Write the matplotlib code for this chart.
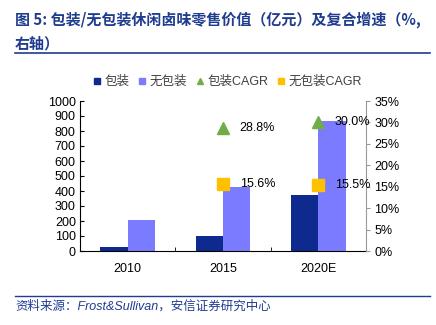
import matplotlib.pyplot as plt
from matplotlib.lines import Line2D
import numpy as np

plt.rcParams['font.family'] = ['Liberation Sans', 'Noto Sans CJK SC', 'DejaVu Sans']

years = ['2010', '2015', '2020E']
packed = [30, 103, 373]          # 包装 (亿元)
unpacked = [205, 430, 870]       # 无包装 (亿元)
cagr_years = [1, 2]
packed_cagr = [28.8, 30.0]       # 包装CAGR (%)
unpacked_cagr = [15.6, 15.5]     # 无包装CAGR (%)

navy = '#0F2A8E'
lilac = '#7B7BFF'
green = '#70AD47'
gold = '#FFC000'
blue_txt = '#1F3C8F'

fig = plt.figure(figsize=(4.36, 3.25), dpi=100)
ax = fig.add_axes([80/436, 1-251/325, 286/436, 150/325])
x = np.arange(len(years))
w = 0.286
ax.bar(x - w/2, packed, w, color=navy, label='包装')
ax.bar(x + w/2, unpacked, w, color=lilac, label='无包装')
ax.set_xlim(-0.5, 2.5)
ax.set_ylim(0, 1000)
ax.set_yticks(range(0, 1001, 100))
ax.set_xticks(x)
ax.set_xticklabels(years)
ax.set_xticks([0.5, 1.5], minor=True)
ax.tick_params(axis='x', which='major', length=0, labelsize=9, pad=9)
ax.tick_params(axis='x', which='minor', length=3, direction='in')
ax.tick_params(axis='y', length=3, direction='in', labelsize=9, pad=3)
ax.spines['top'].set_visible(False)
ax.spines['right'].set_visible(False)

ax2 = ax.twinx()
ax2.set_ylim(0, 35)
ax2.set_yticks(range(0, 36, 5))
ax2.set_yticklabels([f'{v}%' for v in range(0, 36, 5)])
ax2.tick_params(axis='y', length=3, direction='out', color='#999999', labelsize=9, pad=3)
for s in ['top', 'left', 'bottom']:
    ax2.spines[s].set_visible(False)
ax2.spines['right'].set_color('#999999')
ax2.plot(cagr_years, packed_cagr, linestyle='none', marker='^', color=green, markersize=8)
ax2.plot(cagr_years, unpacked_cagr, linestyle='none', marker='s', color=gold, markersize=8)
for xi, v in zip(cagr_years, packed_cagr):
    ax2.annotate(f'{v:.1f}%', (xi, v), xytext=(12, 0), textcoords='offset points',
                 va='center', ha='left', fontsize=9)
for xi, v in zip(cagr_years, unpacked_cagr):
    ax2.annotate(f'{v:.1f}%', (xi, v), xytext=(12, 0), textcoords='offset points',
                 va='center', ha='left', fontsize=9)

handles = [
    Line2D([], [], linestyle='none', marker='s', color=navy, markersize=5),
    Line2D([], [], linestyle='none', marker='s', color=lilac, markersize=5),
    Line2D([], [], linestyle='none', marker='^', color=green, markersize=5),
    Line2D([], [], linestyle='none', marker='s', color=gold, markersize=5),
]
labels = ['包装', '无包装', '包装CAGR', '无包装CAGR']
leg = fig.legend(handles, labels, loc='center', bbox_to_anchor=(227/436, 1-82/325), ncol=4,
                 frameon=False, fontsize=9, handlelength=0.8, handletextpad=0.2,
                 columnspacing=0.6, labelcolor='#404040')

title_font = ['Noto Sans CJK SC', 'DejaVu Sans']
fig.text(15/436, 1-20/325, '图 5: 包装/无包装休闲卤味零售价值（亿元）及复合增速（%,',
         fontsize=10.8, fontweight='bold', color=blue_txt, va='center', ha='left',
         family=title_font)
fig.text(15/436, 1-43/325, '右轴）', fontsize=10.8, fontweight='bold', color=blue_txt,
         va='center', ha='left', family=title_font)
fig.add_artist(Line2D([15/436, 430/436], [1-53/325, 1-53/325], color=blue_txt, lw=1.2))
fig.add_artist(Line2D([15/436, 430/436], [1-296/325, 1-296/325], color=blue_txt, lw=1.0))
fig.text(15/436, 1-306/325, '资料来源：Frost&Sullivan，安信证券研究中心', fontsize=9,
         style='italic', color=blue_txt, va='center', ha='left')

fig.savefig('out.png', dpi=100)
